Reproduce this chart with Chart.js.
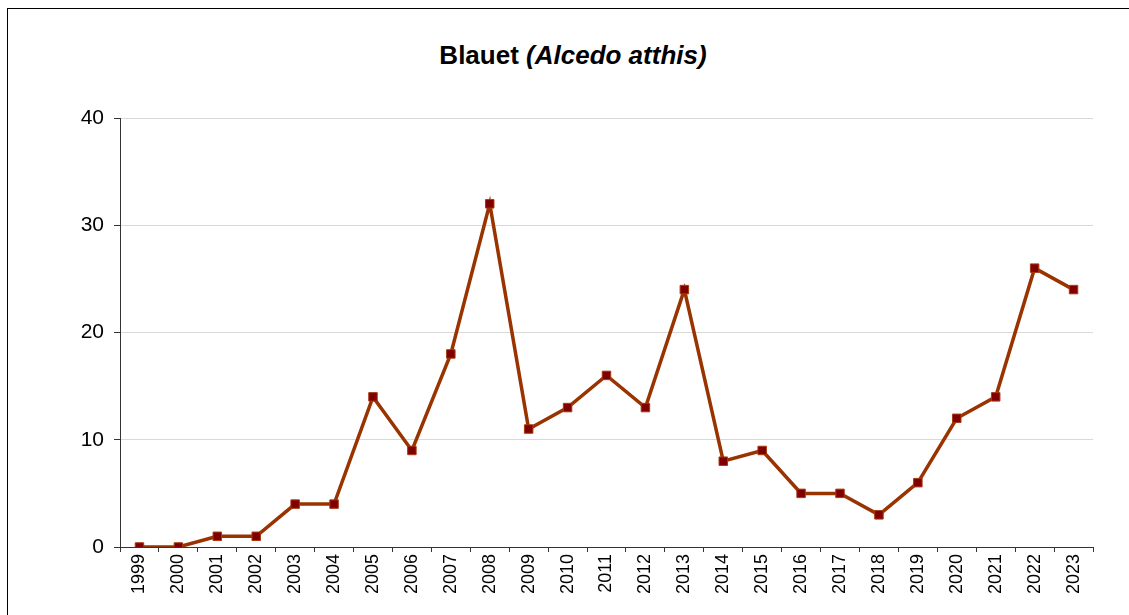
<!DOCTYPE html>
<html>
<head>
<meta charset="utf-8">
<script src="https://cdn.jsdelivr.net/npm/chart.js@4/dist/chart.umd.min.js"></script>
<style>
  html, body { margin: 0; padding: 0; background: #fff; overflow: hidden; }
  #wrap { position: relative; width: 1129px; height: 615px; }
  #frame { position: absolute; left: 7px; top: 8px; width: 1140px; height: 640px; border: 1px solid #000; box-sizing: border-box; }
  #title { position: absolute; left: 0; width: 1146px; top: 40px; text-align: center;
           font-family: "Liberation Sans", Arial, sans-serif; font-size: 26px; font-weight: bold; color: #000; }
  canvas { position: absolute; left: 0; top: 0; }
</style>
</head>
<body>
<div id="wrap">
  <div id="frame"></div>
  <div id="title">Blauet <i>(Alcedo atthis)</i></div>
  <canvas id="birdChart" width="1129" height="615"></canvas>
</div>
<script>
// data
const years = ['1999', '2000', '2001', '2002', '2003', '2004', '2005', '2006', '2007', '2008',
  '2009', '2010', '2011', '2012', '2013', '2014', '2015', '2016', '2017', '2018',
  '2019', '2020', '2021', '2022', '2023'];
const counts = [0, 0, 1, 1, 4, 4, 14, 9, 18, 32, 11, 13, 16, 13, 24, 8, 9, 5, 5, 3, 6, 12, 14, 26, 24];
const yTicks = [0, 10, 20, 30, 40];

const ctx = document.getElementById('birdChart').getContext('2d');

new Chart(ctx, {
  type: 'line',
  data: {
    labels: years,
    datasets: [{
      label: 'Blauet',
      data: counts,
      borderColor: '#993300',
      borderWidth: 3.5,
      pointStyle: 'rect',
      pointRadius: 6,
      pointBackgroundColor: '#800000',
      pointBorderColor: '#a83a10',
      pointBorderWidth: 1,
      tension: 0,
      fill: false
    }]
  },
  options: {
    responsive: false,
    animation: false,
    layout: { padding: { left: 0, top: 118, right: 36, bottom: 0 } },
    plugins: {
      legend: { display: false },
      title: { display: false },
      tooltip: { enabled: false }
    },
    scales: {
      x: {
        offset: true,
        grid: { offset: true, drawOnChartArea: false, tickLength: 5, tickColor: '#333' },
        border: { color: '#333' },
        ticks: {
          minRotation: 90, maxRotation: 90, padding: 2, color: '#000',
          font: { family: '"Liberation Sans", Arial, sans-serif', size: 18 }
        },
        afterFit: s => { s.height = 68; }
      },
      y: {
        min: 0, max: 40,
        afterBuildTicks: s => { s.ticks = yTicks.map(v => ({ value: v })); },
        grid: { color: '#d9d9d9', tickLength: 6, tickColor: '#333' },
        border: { color: '#333' },
        ticks: {
          padding: 10, color: '#000',
          font: { family: '"Liberation Sans", Arial, sans-serif', size: 21 }
        },
        afterFit: s => { s.width = 120; }
      }
    }
  }
});
</script>
</body>
</html>
